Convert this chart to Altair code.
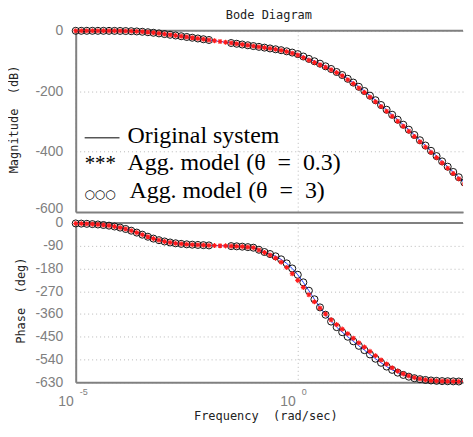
import altair as alt
import pandas as pd

# log10 of frequency (rad/sec) of every marker
FREQ_EXP = [
    -5.0, -4.875, -4.75, -4.625, -4.5, -4.375, -4.25, -4.125,
    -4.0, -3.875, -3.75, -3.625, -3.5, -3.375, -3.25, -3.125,
    -3.0, -2.875, -2.75, -2.625, -2.5, -2.375, -2.25, -2.125,
    -2.0, -1.875, -1.75, -1.625, -1.5, -1.375, -1.25, -1.125,
    -1.0, -0.875, -0.75, -0.625, -0.5, -0.375, -0.25, -0.125,
    0.0, 0.125, 0.25, 0.375, 0.5, 0.625, 0.75, 0.875,
    1.0, 1.125, 1.25, 1.375, 1.5, 1.625, 1.75, 1.875,
    2.0, 2.125, 2.25, 2.375, 2.5, 2.625, 2.75, 2.875,
    3.0, 3.125, 3.25, 3.375, 3.5, 3.625, 3.75, 3.875,
]

# Magnitude (dB)
ORIG_MAG = [
    0.0, 0.0, 0.0, -0.03, -0.05, -0.08, -0.15, -0.26,
    -0.45, -0.77, -1.29, -2.09, -3.21, -4.70, -6.50, -8.55,
    -10.78, -13.12, -15.53, -17.97, -20.44, -22.92, -25.41, -27.91,
    -30.4, -32.9, -35.4, -37.9, -40.4, -42.9, -45.4, -47.9,
    -50.5, -53.1, -55.7, -58.4, -61.2, -64.2, -67.9, -72.1,
    -77.2, -85.1, -93.0, -100.9, -108.8, -117.6, -126.4, -136.4,
    -146.4, -158.9, -171.4, -185.4, -199.4, -214.7, -229.9, -245.7,
    -261.4, -277.9, -294.4, -310.9, -327.4, -344.9, -362.4, -379.9,
    -397.4, -414.9, -432.4, -449.9, -467.4, -484.9, -502.4, -519.9,
]
STAR_MAG = [
    0.0, 0.0, 0.0, -0.03, -0.05, -0.08, -0.15, -0.26,
    -0.45, -0.77, -1.29, -2.09, -3.21, -4.70, -6.50, -8.55,
    -10.78, -13.12, -15.53, -17.97, -20.44, -22.92, -25.41, -27.91,
    -30.4, -32.9, -35.4, -37.9, -40.4, -42.9, -45.4, -47.9,
    -50.5, -53.1, -55.7, -58.4, -61.2, -64.7, -68.9, -74.1,
    -80.2, -88.6, -97.0, -104.9, -112.3, -120.6, -128.9, -138.4,
    -148.9, -161.9, -174.9, -189.4, -203.9, -219.7, -234.9, -250.7,
    -266.4, -282.9, -299.4, -315.9, -332.4, -349.9, -367.4, -384.9,
    -402.4, -419.9, -437.4, -454.9, -472.4, -489.9, -507.4, -524.9,
]
CIRC_MAG = [
    0.0, 0.0, 0.0, -0.03, -0.05, -0.08, -0.15, -0.26,
    -0.45, -0.77, -1.29, -2.09, -3.21, -4.70, -6.50, -8.55,
    -10.78, -13.12, -15.53, -17.97, -20.44, -22.92, -25.41, -27.91,
    -30.4, None, None, None, -40.4, -42.9, -45.4, -47.9,
    -50.5, -53.1, -55.7, -58.4, -61.2, -64.2, -67.9, -72.1,
    -77.2, -85.1, -93.0, -100.9, -108.8, -117.6, -126.4, -136.4,
    -146.4, -158.9, -171.4, -185.4, -199.4, -214.7, -229.9, -245.7,
    -261.4, -277.9, -294.4, -310.9, -327.4, -344.9, -362.4, -379.9,
    -397.4, -414.9, -432.4, -449.9, -467.4, -484.9, -502.4, -519.9,
]

# Phase (deg)
ORIG_PHASE = [
    -1.9, -2.5, -3.4, -4.5, -6.0, -8.0, -10.6, -14.0,
    -18.3, -23.8, -30.5, -38.1, -46.3, -54.4, -61.8, -68.1,
    -73.2, -77.2, -80.4, -82.7, -84.5, -85.9, -86.9, -87.7,
    -88.8, -89.4, -90.0, -90.7, -91.5, -92.4, -93.7, -95.5,
    -97.8, -105.9, -114.9, -122.9, -131.9, -143.9, -159.9, -179.9,
    -204.9, -234.9, -267.9, -301.9, -333.9, -362.9, -389.9, -411.9,
    -431.9, -449.9, -467.9, -485.9, -502.9, -519.9, -536.9, -552.9,
    -567.9, -580.9, -591.9, -600.9, -607.9, -613.9, -617.9, -620.9,
    -622.9, -624.4, -625.4, -625.9, -626.4, -626.9, -627.4, -627.9,
]
STAR_PHASE = [
    -1.9, -2.5, -3.4, -4.5, -6.0, -8.0, -10.6, -14.0,
    -18.3, -23.8, -30.5, -38.1, -46.3, -54.4, -61.8, -68.1,
    -73.2, -77.2, -80.4, -82.7, -84.5, -85.9, -86.9, -87.7,
    -88.8, -89.4, -90.0, -90.7, -91.5, -92.4, -93.7, -95.5,
    -97.8, -106.9, -116.9, -126.9, -138.9, -154.9, -175.9, -200.9,
    -226.9, -254.9, -283.9, -311.9, -336.9, -359.9, -382.9, -401.9,
    -419.9, -437.9, -455.9, -473.9, -490.9, -507.9, -524.9, -541.9,
    -557.9, -572.9, -585.9, -596.9, -604.9, -611.9, -616.9, -620.4,
    -622.9, -624.4, -625.4, -625.9, -626.4, -626.9, -627.4, -627.9,
]
CIRC_PHASE = [
    -1.9, -2.5, -3.4, -4.5, -6.0, -8.0, -10.6, -14.0,
    -18.3, -23.8, -30.5, -38.1, -46.3, -54.4, -61.8, -68.1,
    -73.2, -77.2, -80.4, -82.7, -84.5, -85.9, -86.9, -87.7,
    -88.8, None, None, None, -91.5, -92.4, -93.7, -95.5,
    -97.8, -105.9, -114.9, -122.9, -131.9, -143.9, -159.9, -179.9,
    -204.9, -234.9, -267.9, -301.9, -333.9, -362.9, -389.9, -411.9,
    -431.9, -449.9, -467.9, -485.9, -502.9, -519.9, -536.9, -552.9,
    -567.9, -580.9, -591.9, -600.9, -607.9, -613.9, -617.9, -620.9,
    -622.9, -624.4, -625.4, -625.9, -626.4, -626.9, -627.4, -627.9,
]

MAG_TICKS = [0, -200, -400, -600]
PHASE_TICKS = [0, -90, -180, -270, -360, -450, -540, -630]
X_TICKS = [1e-5, 1.0]
X_TICK_EXP = ["-5", "0"]

NB = "\u00a0"
EN = "\u2002"
TITLE = "Bode Diagram"
MAG_TITLE = "Magnitude" + NB + NB + "(dB)"
PHASE_TITLE = "Phase" + NB + NB + "(deg)"
X_TITLE = "Frequency" + NB + NB + "(rad/sec)"
LEGEND_LABELS = [
    "Original system",
    "Agg. model (θ" + EN + "=" + EN + "0.3)",
    "Agg. model (θ" + EN + "=" + EN + "3)",
]

X_MAX_EXP = 3.72   # right edge of the visible frequency range
W = 389
H1 = 182
H2 = 160
EDGE = 3.7  # markers beyond this exponent sit on the right edge and are clipped
GRAY = "#808080"
GRID = "#b8b8b8"
INK = "#222222"
STAR = "M0,-1L0,1M-1,0L1,0M-0.7,-0.7L0.7,0.7M-0.7,0.7L0.7,-0.7"
MONO = "DejaVu Sans Mono"
NARROW = "Liberation Sans Narrow, Liberation Sans, sans-serif"
SERIF = "Liberation Serif"


def frame(vals, lo=-99, hi=99):
    return pd.DataFrame(
        [{"f": 10 ** e, "v": v} for e, v in zip(FREQ_EXP, vals)
         if v is not None and lo <= e < hi]
    )


xscale = alt.Scale(type="log", domain=[1e-5, 10 ** X_MAX_EXP], nice=False)
one = pd.DataFrame({"a": [0]})


def label(text, x, y, font, size, color="black", align="left",
          baseline="alphabetic", angle=0):
    kw = dict(text=text, align=align, baseline=baseline, font=font,
              fontSize=size, color=color)
    if angle:
        kw["angle"] = angle
    return alt.Chart(one).mark_text(**kw).encode(x=alt.value(x), y=alt.value(y))


def panel(orig, star, circ, ydomain, yticks, ytitle, tx, ty, h, bottom):
    xaxis = alt.Axis(
        values=X_TICKS, labels=False, ticks=False, domainColor=GRAY,
        domainWidth=2, grid=True, gridDash=[1, 3], gridColor=GRID, title=None,
    )
    ykw = dict(
        values=yticks, title=None, labelFont=NARROW, labelFontSize=14,
        labelColor=GRAY, labelPadding=13, ticks=False, domainColor=GRAY,
        domainWidth=2, grid=True, gridDash=[1, 3], gridColor=GRID,
        labelOverlap=False,
        labelExpr="datum.value < 0 ? '-' + format(-datum.value, 'd') : '0'",
    )
    if not bottom:
        ykw["labelBaseline"] = {
            "condition": {"test": "datum.value <= -600", "value": "alphabetic"},
            "value": "middle",
        }
    yaxis = alt.Axis(**ykw)
    yscale = alt.Scale(domain=ydomain, nice=False, zero=False)
    X = alt.X("f:Q", scale=xscale, axis=xaxis)
    Y = alt.Y("v:Q", scale=yscale, axis=yaxis)
    border = alt.Chart(one).mark_rule(color=GRAY, strokeWidth=2).encode(
        x=alt.value(0), x2=alt.value(W), y=alt.value(0)
    )
    line = alt.Chart(frame(orig)).mark_line(
        color="#1f3fff", strokeWidth=1, clip=True
    ).encode(x=X, y=Y)
    layers = [border, line]
    for lo, hi, clip in ((-99, EDGE, False), (EDGE, 99, True)):
        layers.append(alt.Chart(frame(circ, lo, hi)).mark_point(
            shape="circle", size=50, color="#111111", strokeWidth=1,
            filled=False, opacity=1, clip=clip
        ).encode(x=X, y=Y))
        layers.append(alt.Chart(frame(star, lo, hi)).mark_point(
            shape=STAR, size=26, color="#ff1a1a", strokeWidth=1.1,
            filled=False, opacity=1, clip=clip
        ).encode(x=X, y=Y))
    layers.append(label(ytitle, tx, ty, MONO, 12, INK, "center", "middle", 270))
    if bottom:
        tdf = pd.DataFrame({"f": X_TICKS, "b": ["10", "10"], "e": X_TICK_EXP})
        base = alt.Chart(tdf).mark_text(
            align="right", baseline="middle", dx=-2, font=NARROW, fontSize=14,
            color=GRAY
        ).encode(x=alt.X("f:Q", scale=xscale), y=alt.value(h + 20), text="b:N")
        expo = alt.Chart(tdf).mark_text(
            align="left", baseline="middle", dx=4, font=NARROW, fontSize=9,
            color=GRAY
        ).encode(x=alt.X("f:Q", scale=xscale), y=alt.value(h + 10), text="e:N")
        xt = label(X_TITLE, 191, h + 34, MONO, 12, INK, "center", "middle")
        layers += [base, expo, xt]
    else:
        rule = alt.Chart(one).mark_rule(color="black", strokeWidth=1).encode(
            x=alt.value(9), x2=alt.value(44), y=alt.value(107.5)
        )
        layers += [
            label(TITLE, 194, -15.5, MONO, 12, INK, "center", "middle"),
            rule,
            label(LEGEND_LABELS[0], 52, 113, SERIF, 24),
            label("***", 9, 140, SERIF, 21),
            label(LEGEND_LABELS[1], 52, 140, SERIF, 24),
            label("○○○", 9, 164, "DejaVu Sans", 12, "black", "left", "middle"),
            label(LEGEND_LABELS[2], 54, 168, SERIF, 24),
        ]
    return alt.layer(*layers).properties(width=W, height=h)


top = panel(ORIG_MAG, STAR_MAG, CIRC_MAG, [-600, 0], MAG_TICKS,
            MAG_TITLE, -62, 89, H1, False)
bot = panel(ORIG_PHASE, STAR_PHASE, CIRC_PHASE, [-630, 0], PHASE_TICKS,
            PHASE_TITLE, -55, 78, H2, True)

chart = alt.vconcat(top, bot, spacing=11, bounds="flush").properties(
    padding={"left": 0, "top": 0, "right": 0, "bottom": 0},
    background="white",
).configure_view(stroke=None).configure_axis(labelOverlap=False)

chart.save("out.html", embed_options={"renderer": "svg", "actions": False})
